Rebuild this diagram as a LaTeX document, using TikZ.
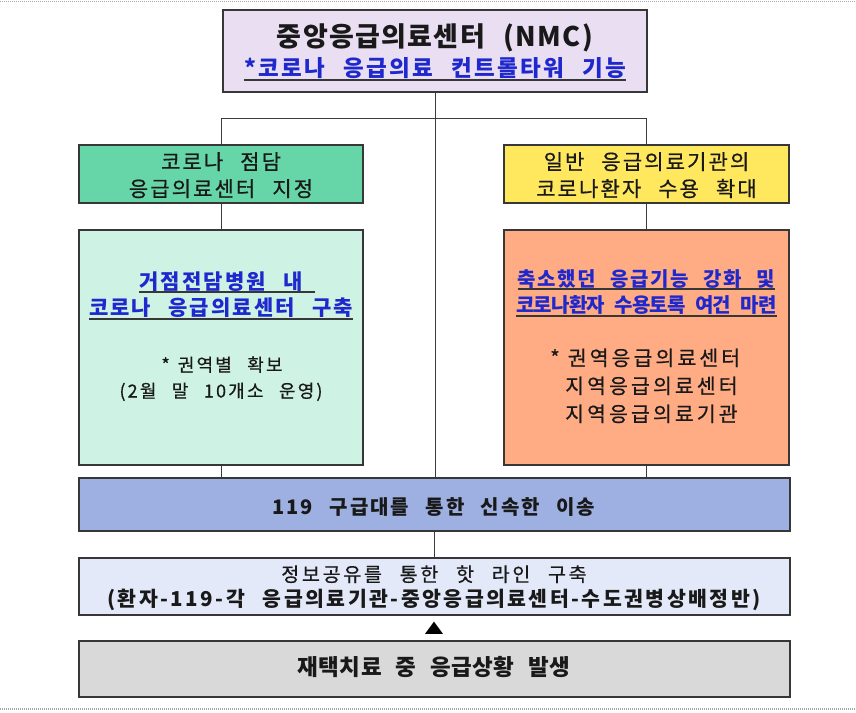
\documentclass[tikz,border=0pt]{standalone}
\usepackage{fontspec}
\usepackage{graphicx}
\newfontfamily\kr[WordSpace=2.5]{Noto Sans CJK KR}
\newfontfamily\krm[WordSpace=2.5,FakeBold=0.6]{Noto Sans CJK KR}
\newfontfamily\symf{DejaVu Sans}
\newcommand\kl[3]{\fontsize{#1}{#1}\selectfont\addfontfeature{LetterSpace=#2}#3}
\definecolor{bordc}{RGB}{55,55,55}
\definecolor{linec}{RGB}{60,60,60}
\definecolor{txtc}{RGB}{25,25,25}
\definecolor{linkc}{RGB}{30,40,205}
\definecolor{nmcfill}{RGB}{233,222,242}
\definecolor{grnfill}{RGB}{102,214,168}
\definecolor{mintfill}{RGB}{206,242,227}
\definecolor{ylwfill}{RGB}{255,231,94}
\definecolor{orgfill}{RGB}{255,171,132}
\definecolor{bluefill}{RGB}{158,176,226}
\definecolor{ltbfill}{RGB}{227,233,249}
\definecolor{gryfill}{RGB}{217,217,217}
\tikzset{
  boxs/.style={draw=bordc, line width=1.5pt, inner sep=0pt, anchor=center},
  txt/.style={inner sep=0pt, anchor=base, text=txtc, font=\krm},
  txtb/.style={txt, font=\kr\bfseries},
  lnk/.style={txt, font=\kr\bfseries, text=linkc},
  ul/.style={draw=bordc, line width=1.1pt},
  conn/.style={draw=linec, line width=1pt},
  framel/.style={draw=gray!70, line width=1.5pt, dash pattern=on 1pt off 1pt}
}
\begin{document}
\begin{tikzpicture}[x=1pt,y=-1pt]
\useasboundingbox[fill=white] (0,0) rectangle (856,712);
\draw[framel] (0,1.5) -- (856,1.5);
\draw[framel] (0,709) -- (856,709);

% boxes
\node[boxs, fill=nmcfill, minimum width=424pt, minimum height=82pt] (nmc) at (435,51) {};
\node[boxs, fill=grnfill, minimum width=284pt, minimum height=58pt] (green) at (221,174) {};
\node[boxs, fill=ylwfill, minimum width=285pt, minimum height=58pt] (yellow) at (646.5,174) {};
\node[boxs, fill=mintfill, minimum width=284pt, minimum height=235pt] (mint) at (221,347.5) {};
\node[boxs, fill=orgfill, minimum width=285pt, minimum height=235pt] (orange) at (646.5,347.5) {};
\node[boxs, fill=bluefill, minimum width=711pt, minimum height=53pt] (blue) at (434.5,504.5) {};
\node[boxs, fill=ltbfill, minimum width=711pt, minimum height=57pt] (light) at (434.5,586.5) {};
\node[boxs, fill=gryfill, minimum width=711pt, minimum height=56pt] (grey) at (434.5,669) {};

% connectors
\coordinate (hj) at (435,118);
\draw[conn] (nmc.south) -- (nmc.south |- blue.north);
\draw[conn] (green.north) -- (green.north |- hj) -- (yellow.north |- hj) -- (yellow.north);
\draw[conn] (green.south) -- (mint.north);
\draw[conn] (yellow.south) -- (orange.north);
\draw[conn] (mint.south) -- (mint.south |- blue.north);
\draw[conn] (orange.south) -- (orange.south |- blue.north);
\draw[conn] (blue.south) -- (blue.south |- light.north);

% NMC texts
\node[txtb] (nmct) at (435,46.5) {\kl{27}{5}{중앙응급의료센터 (NMC)}};
\node[lnk] (nmcs) at (435,76.5) {\kl{22.5}{10}{*코로나 응급의료 컨트롤타워 기능}};
\draw[ul] ([yshift=-3.5pt]nmcs.base west) -- ([yshift=-3.5pt]nmcs.base east);

% green / yellow
\node[txt] (g1) at (221,169.5) {\kl{21}{10}{코로나 점담}};
\node[txt] (g2) at (221,196.5) {\kl{21}{10}{응급의료센터 지정}};
\node[txt] (y1) at (646.5,169.5) {\kl{21}{10}{일반 응급의료기관의}};
\node[txt] (y2) at (646.5,196.5) {\kl{21}{10}{코로나환자 수용 확대}};

% mint box
\node[lnk] (m1) at (221,289.5) {\kl{21}{10}{거점전담병원 내}};
\draw[ul] ([yshift=-2.5pt]m1.base west) -- ([yshift=-2.5pt,xshift=12pt]m1.base east);
\node[lnk] (m2) at (221,315.5) {\kl{21}{10}{코로나 응급의료센터 구축}};
\draw[ul] ([yshift=-3.5pt]m2.base west) -- ([yshift=-3.5pt]m2.base east);
\node[txt] (m3) at (222,371.5) {\kl{18}{12}{*\kern8pt권역별 확보}};
\node[txt] (m4) at (221,397.5) {\kl{18}{12}{(2월 말 10개소 운영)}};

% orange box
\node[lnk] (o1) at (646.5,286) {\kl{20}{7}{축소했던 응급기능 강화 및}};
\draw[ul] ([yshift=-3pt]o1.base west) -- ([yshift=-3pt]o1.base east);
\node[lnk] (o2) at (646.5,312.5) {\kl{20}{-4}{코로나환자 수용토록 여건 마련}};
\draw[ul] ([yshift=-3.5pt]o2.base west) -- ([yshift=-3.5pt]o2.base east);
\node[txt, anchor=base west] (o3) at (550,365.5) {\kl{20.5}{15}{*\kern8pt권역응급의료센터}};
\node[txt, anchor=base west] (o4) at (565,393.5) {\kl{20.5}{15}{지역응급의료센터}};
\node[txt, anchor=base west] (o5) at (565,421.5) {\kl{20.5}{15}{지역응급의료기관}};

% bottom boxes
\node[txtb] (bt) at (434,514.5) {\kl{20}{10}{119 구급대를 통한 신속한 이송}};
\node[txt] (l1) at (434,581.5) {\kl{19.5}{14}{정보공유를 통한 핫 라인 구축}};
\node[txtb] (l2) at (434,606.5) {\kl{20.5}{12}{(환자-119-각 응급의료기관-중앙응급의료센터-수도권병상배정반)}};
\node[inner sep=0pt, anchor=center, text=black] (tri) at (434,628.5) {\symf\fontsize{24}{24}\selectfont\scalebox{1}[0.68]{▲}};
\node[txtb] (gt) at (434,675.5) {\kl{22.5}{2}{재택치료 중 응급상황 발생}};
\end{tikzpicture}
\end{document}
